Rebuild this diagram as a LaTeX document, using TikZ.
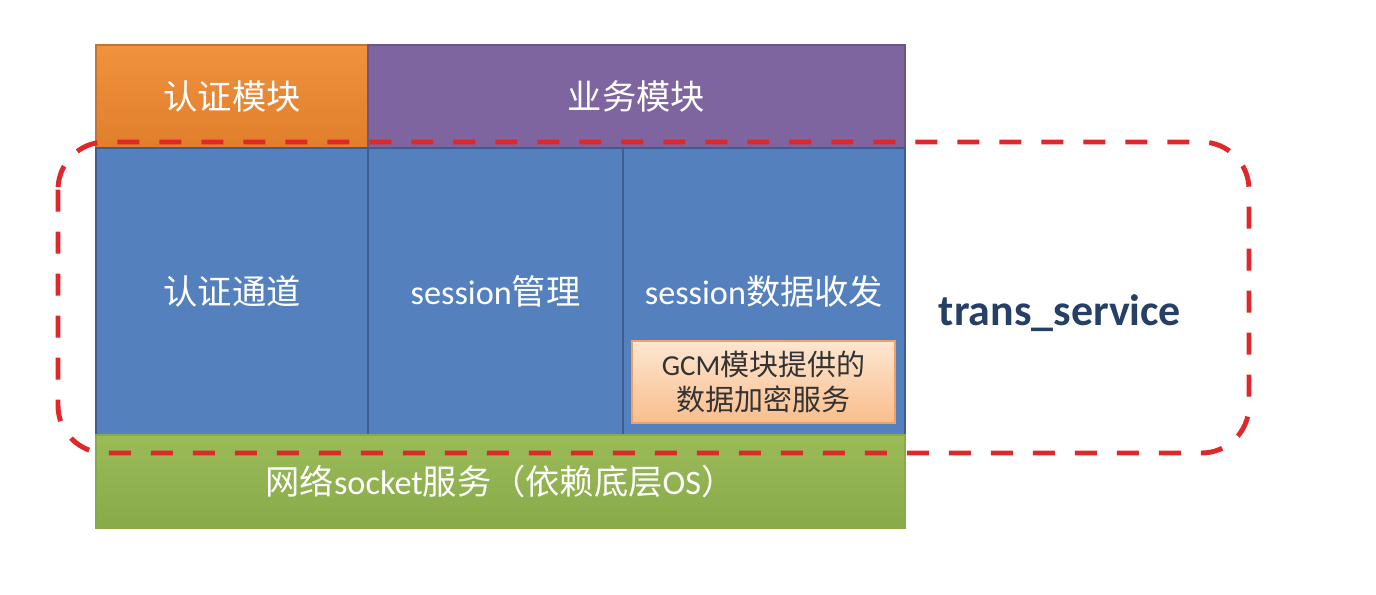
\documentclass[tikz,border=0pt]{standalone}
\usepackage{fontspec}
\setmainfont{Carlito}
\newfontfamily\cjk{Noto Sans CJK SC}
\definecolor{authorange}{HTML}{F0923E}
\definecolor{authorangedk}{HTML}{E07E2C}
\definecolor{bizpurple}{HTML}{7E65A0}
\definecolor{chanblue}{HTML}{5480BD}
\definecolor{chanbluedk}{HTML}{3B5F92}
\definecolor{netgreen}{HTML}{9BBB59}
\definecolor{netgreendk}{HTML}{89AA49}
\definecolor{gcmlight}{HTML}{FDE6D2}
\definecolor{gcmdark}{HTML}{F9BE8C}
\definecolor{gcmedge}{HTML}{F0A060}
\definecolor{svcnavy}{HTML}{253F66}
\definecolor{dashred}{HTML}{E0282A}
\tikzset{
  layer/.style={draw, line width=1pt, inner sep=0pt, text=white, font=\fontsize{19.5}{23}\selectfont},
  gcmbox/.style={draw=gcmedge, line width=0.8pt, top color=gcmlight, bottom color=gcmdark,
    minimum width=5.26cm, minimum height=1.64cm, align=center, text=black!80,
    font=\fontsize{16.5}{20}\selectfont}
}
\begin{document}
\begin{tikzpicture}
    \useasboundingbox (0,0) rectangle (27.52,-11.88);

    % Top row
    \node[layer, draw=authorange!80!black, top color=authorange, bottom color=authorangedk,
      minimum width=5.44cm, minimum height=2.06cm] (authmod) at (4.64,-1.93) {\cjk 认证模块};
    \node[layer, draw=bizpurple!85!black, fill=bizpurple,
      minimum width=10.74cm, minimum height=2.06cm] (bizmod) at (12.73,-1.93) {\cjk 业务模块};

    % trans_service layer
    \node[layer, draw=chanbluedk, fill=chanblue,
      minimum width=5.44cm, minimum height=5.74cm] (authchan) at (4.64,-5.83) {\cjk 认证通道};
    \node[layer, draw=chanbluedk, fill=chanblue,
      minimum width=5.10cm, minimum height=5.74cm] (sessmgr) at (9.91,-5.83) {session{\cjk 管理}};
    \node[layer, draw=chanbluedk, fill=chanblue,
      minimum width=5.64cm, minimum height=5.74cm] (sessdata) at (15.28,-5.83) {session{\cjk 数据收发}};
    \node[gcmbox] (gcm) at (15.27,-7.64) {GCM{\cjk 模块提供的}\\{\cjk 数据加密服务}};

    % Bottom row
    \node[layer, draw=netgreendk, top color=netgreen, bottom color=netgreendk,
      minimum width=16.18cm, minimum height=1.86cm] (netsock) at (10.01,-9.63) {{\cjk 网络}socket{\cjk 服务（依赖底层}OS{\cjk ）}};

    % Dashed boundary
    \draw[dashred, line width=2.8pt, dash pattern=on 0.44cm off 0.4cm, rounded corners=0.95cm]
      (1.16,-2.84) rectangle (24.98,-9.06);
    \node[text=svcnavy, font=\fontsize{25}{28}\selectfont\bfseries] (svc) at (21.2,-6.26) {trans\_service};
\end{tikzpicture}
\end{document}
